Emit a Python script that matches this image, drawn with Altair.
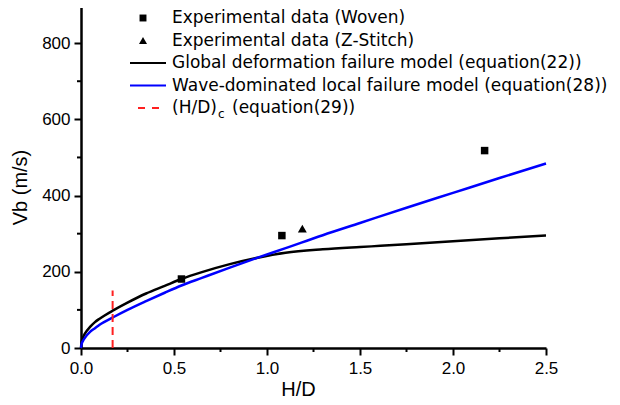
import altair as alt
import pandas as pd

# Global deformation failure model (equation 22) - black curve
hd_global = [0, 0.003, 0.01, 0.02, 0.05, 0.075, 0.1, 0.178, 0.25, 0.35, 0.45, 0.54, 0.65, 0.8, 0.95, 1.1, 1.3, 1.5, 1.61, 1.75, 2.0, 2.25, 2.5]
vb_global = [0, 16, 27, 37, 56, 68, 77, 100, 119, 143, 163, 181, 199, 220, 237, 250, 259, 265, 268, 272, 280, 288, 295]

# Wave-dominated local failure model (equation 28) - blue curve
hd_wave = [0, 0.003, 0.01, 0.02, 0.05, 0.075, 0.1, 0.178, 0.25, 0.35, 0.45, 0.54, 0.65, 0.8, 0.95, 1.1, 1.3, 1.5, 1.75, 2.0, 2.25, 2.5]
vb_wave = [0, 10, 18, 26, 43, 52, 61, 82, 100, 123, 145, 164, 184, 211, 237, 262, 296, 328, 368, 407, 446, 484]

# Experimental data
woven_hd = [0.54, 1.08, 2.17]
woven_vb = [181, 295, 518]
zst_hd = [1.19]
zst_vb = [313]

# Critical (H/D)c, equation 29
hdc = [0.17]
hdc_top = [151]

x_ticks = [0, 0.5, 1.0, 1.5, 2.0, 2.5]
x_minor = [0.25, 0.75, 1.25, 1.75, 2.25]
y_ticks = [0, 200, 400, 600, 800]
y_minor = [100, 300, 500, 700]

legend_labels = [
    "Experimental data (Woven)",
    "Experimental data (Z-Stitch)",
    "Global deformation failure model (equation(22))",
    "Wave-dominated local failure model (equation(28))",
]

FONT = "Liberation Sans"
LFONT = "DejaVu Sans"
LSIZE = 17
W, H = 465, 343

xscale = alt.Scale(domain=[0, 2.5], nice=False)
yscale = alt.Scale(domain=[0, 900], nice=False)
xax = alt.Axis(values=x_ticks, format=".1f", grid=False, domainColor="black", domainWidth=2.5,
               tickColor="black", tickSize=7, tickWidth=2, labelFont=FONT, labelFontSize=17,
               labelColor="black", labelPadding=5, labelFlush=False, labelOverlap=False,
               title="H/D", titleFont=FONT, titleFontSize=20,
               titleFontWeight="normal", titleColor="black", titleX=217, titleY=47,
               titleBaseline="alphabetic")
yax = alt.Axis(values=y_ticks, format="d", grid=False, domainColor="black", domainWidth=2.5,
               tickColor="black", tickSize=7, tickWidth=2, labelFont=FONT, labelFontSize=17,
               labelColor="black", labelPadding=4, labelFlush=False, labelOverlap=False,
               title="Vb (m/s)", titleFont=FONT,
               titleFontSize=20, titleFontWeight="normal", titleColor="black", titleX=-61,
               titleY=182, titleAngle=270, titleBaseline="middle", titleAlign="center")

X = lambda: alt.X("hd:Q", scale=xscale, axis=xax)
Y = lambda: alt.Y("vb:Q", scale=yscale, axis=yax)

df_g = pd.DataFrame({"hd": hd_global, "vb": vb_global})
df_w = pd.DataFrame({"hd": hd_wave, "vb": vb_wave})
df_wov = pd.DataFrame({"hd": woven_hd, "vb": woven_vb})
df_z = pd.DataFrame({"hd": zst_hd, "vb": zst_vb})
df_c = pd.DataFrame({"hd": hdc, "vb": [0], "vb2": hdc_top})
df_xm = pd.DataFrame({"hd": x_minor})
df_ym = pd.DataFrame({"vb": y_minor})
one = pd.DataFrame({"a": [0]})

black = alt.Chart(df_g).mark_line(color="black", strokeWidth=2.5, interpolate="monotone").encode(x=X(), y=Y())
blue = alt.Chart(df_w).mark_line(color="#0000ff", strokeWidth=2.5, interpolate="monotone").encode(x=X(), y=Y())
red = alt.Chart(df_c).mark_rule(color="#ff2020", strokeWidth=2, strokeDash=[8, 5]).encode(x=X(), y=Y(), y2="vb2:Q")
sq = alt.Chart(df_wov).mark_point(shape="square", filled=True, size=56, color="black", opacity=1).encode(x=X(), y=Y())
tri = alt.Chart(df_z).mark_point(shape="triangle-up", filled=True, size=80, color="black", opacity=1).encode(x=X(), y=Y())
xmin = alt.Chart(df_xm).mark_rule(color="black", strokeWidth=2).encode(x=X(), y=alt.value(H), y2=alt.value(H + 4))
ymin = alt.Chart(df_ym).mark_rule(color="black", strokeWidth=2).encode(y=Y(), x=alt.value(0), x2=alt.value(-4))

# manual legend (pixel positions inside the plot area)
rows = [13, 35.5, 58, 80.5, 103]
lx_sym, lx_txt = 62, 91
leg = [
    alt.Chart(one).mark_point(shape="square", filled=True, size=48, color="black", opacity=1).encode(x=alt.value(lx_sym), y=alt.value(rows[0])),
    alt.Chart(one).mark_point(shape="triangle-up", filled=True, size=64, color="black", opacity=1).encode(x=alt.value(lx_sym), y=alt.value(rows[1])),
    alt.Chart(one).mark_rule(color="black", strokeWidth=2).encode(x=alt.value(49), x2=alt.value(85), y=alt.value(rows[2])),
    alt.Chart(one).mark_rule(color="#0000ff", strokeWidth=2).encode(x=alt.value(49), x2=alt.value(85), y=alt.value(rows[3])),
    alt.Chart(one).mark_rule(color="#ff2020", strokeWidth=2, strokeDash=[7, 7]).encode(x=alt.value(57), x2=alt.value(80), y=alt.value(rows[4])),
]
for i, lab in enumerate(legend_labels):
    leg.append(alt.Chart(one).mark_text(align="left", baseline="middle", font=LFONT, fontSize=LSIZE, color="black")
               .encode(x=alt.value(lx_txt), y=alt.value(rows[i]), text=alt.value(lab)))
leg.append(alt.Chart(one).mark_text(align="left", baseline="middle", font=LFONT, fontSize=LSIZE, color="black")
           .encode(x=alt.value(lx_txt), y=alt.value(rows[4]), text=alt.value("(H/D)")))
leg.append(alt.Chart(one).mark_text(align="left", baseline="middle", font=LFONT, fontSize=12, color="black")
           .encode(x=alt.value(lx_txt + 46), y=alt.value(rows[4] + 6), text=alt.value("c")))
leg.append(alt.Chart(one).mark_text(align="left", baseline="middle", font=LFONT, fontSize=LSIZE, color="black")
           .encode(x=alt.value(lx_txt + 60), y=alt.value(rows[4]), text=alt.value("(equation(29))")))

chart = alt.layer(black, blue, red, sq, tri, xmin, ymin, *leg).properties(
    width=W, height=H,
    autosize=alt.AutoSizeParams(type="none"),
    padding={"left": 73, "top": -3, "right": 66, "bottom": 50},
    background="white",
).configure_view(stroke=None)

chart.save("out.html", embed_options={"renderer": "svg", "actions": False})
